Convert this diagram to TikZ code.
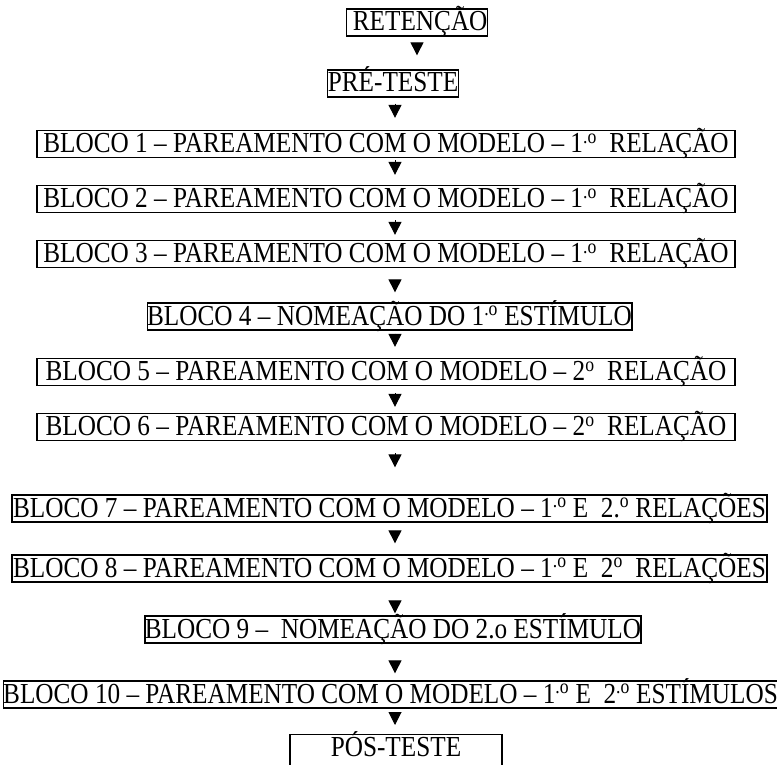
\documentclass[tikz,border=0pt]{standalone}
\usepackage{fontspec}
\setmainfont[FakeStretch=0.87]{Liberation Serif}
\usetikzlibrary{arrows.meta}
\newcommand{\ordo}[1]{\textsuperscript{#1}}
\tikzset{
  box/.style={draw, line width=1.3pt, inner xsep=0pt, inner ysep=1pt,
    text height=21pt, text depth=4pt,
    font=\fontsize{29}{34}\selectfont},
  flow/.style={-{Triangle[width=13pt,length=13pt]}, line width=1pt}
}
\begin{document}
\begin{tikzpicture}[x=1pt,y=-1pt]
  \useasboundingbox (0,0) rectangle (777,765);
  \coordinate (axis) at (395,0);
  \draw
    (417,22.5) node[box, minimum width=98pt] (ret) {\ RETENÇÃO}
    (393,83.5) node[box, minimum width=128pt] (pre) {PRÉ-TESTE}
    (386,144) node[box, minimum width=698pt] (b1) {BLOCO 1 – PAREAMENTO COM O MODELO – 1\ordo{.o}\ \ RELAÇÃO}
    (386,199) node[box, minimum width=698pt] (b2) {BLOCO 2 – PAREAMENTO COM O MODELO – 1\ordo{.o}\ \ RELAÇÃO}
    (386,254) node[box, minimum width=698pt] (b3) {BLOCO 3 – PAREAMENTO COM O MODELO – 1\ordo{.o}\ \ RELAÇÃO}
    (389.5,316.5) node[box, minimum width=473pt] (b4) {BLOCO 4 – NOMEAÇÃO DO 1\ordo{.o} ESTÍMULO}
    (386,372) node[box, minimum width=698pt] (b5) {BLOCO 5 – PAREAMENTO COM O MODELO – 2\ordo{o}\ \ RELAÇÃO}
    (386,427) node[box, minimum width=698pt] (b6) {BLOCO 6 – PAREAMENTO COM O MODELO – 2\ordo{o}\ \ RELAÇÃO}
    (389.5,508.5) node[box, minimum width=755pt] (b7) {BLOCO 7 – PAREAMENTO COM O MODELO – 1\ordo{.o} E\ \ 2.\ordo{o} RELAÇÕES}
    (389.5,568.5) node[box, minimum width=755pt] (b8) {BLOCO 8 – PAREAMENTO COM O MODELO – 1\ordo{.o} E\ \ 2\ordo{o}\ \ RELAÇÕES}
    (393,629.5) node[box, minimum width=494pt] (b9) {BLOCO 9 –\ \ NOMEAÇÃO DO 2.o ESTÍMULO}
    (390.5,694.5) node[box, minimum width=771pt] (b10) {BLOCO 10 – PAREAMENTO COM O MODELO – 1\ordo{.o} E\ \ 2\ordo{.o} ESTÍMULOS}
    (396,734) node[box, anchor=north, minimum width=212pt, text height=21pt, text depth=18pt] (pos) {PÓS-TESTE};
  \begin{scope}[flow]
    \draw[shorten <=6pt, shorten >=14pt] (ret.south) -- (ret.south |- pre.north);
    \draw[shorten <=6pt, shorten >=12pt] (pre.south -| axis) -- (b1.north -| axis);
    \draw[shorten <=2pt, shorten >=10pt] (b1.south -| axis) -- (b2.north -| axis);
    \draw[shorten <=7pt, shorten >=5pt] (b2.south -| axis) -- (b3.north -| axis);
    \draw[shorten <=12pt, shorten >=10pt] (b3.south -| axis) -- (b4.north -| axis);
    \draw[shorten <=3pt, shorten >=11pt] (b4.south -| axis) -- (b5.north -| axis);
    \draw[shorten <=7pt, shorten >=6pt] (b5.south -| axis) -- (b6.north -| axis);
    \draw[shorten <=12pt, shorten >=27pt] (b6.south -| axis) -- (b7.north -| axis);
    \draw[shorten <=8pt, shorten >=11pt] (b7.south -| axis) -- (b8.north -| axis);
    \draw[shorten <=18pt, shorten >=2pt] (b8.south -| axis) -- (b9.north -| axis);
    \draw[shorten <=17pt, shorten >=7pt] (b9.south -| axis) -- (b10.north -| axis);
    \draw[shorten <=4pt, shorten >=9pt] (b10.south -| axis) -- (pos.north -| axis);
  \end{scope}
\end{tikzpicture}
\end{document}
